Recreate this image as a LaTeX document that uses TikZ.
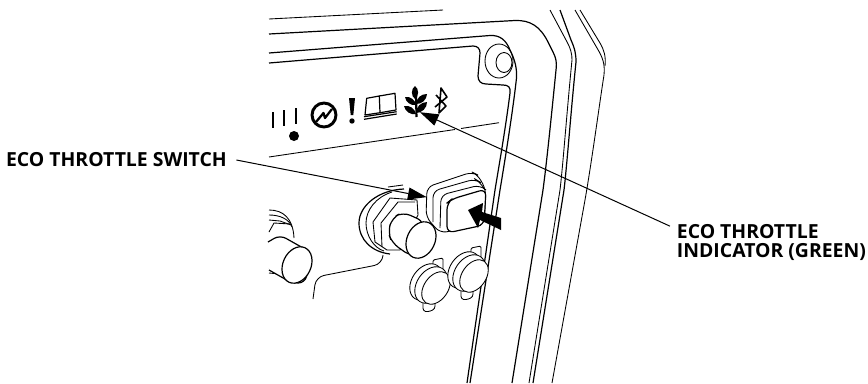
\documentclass[tikz,border=0pt]{standalone}
\usepackage{fontspec}
\setmainfont{Open Sans}
\usetikzlibrary{arrows.meta}

\begin{document}
\begin{tikzpicture}[x=0.75pt, y=-0.75pt, line join=round,
  thinln/.style={draw, line width=0.65pt},
  boldln/.style={draw, line width=0.9pt},
  sym/.style={draw, line width=2.2pt},
  solid fill/.style={fill=black, draw=none},
  call/.style={font=\bfseries\fontsize{14.55}{14.6}\selectfont, align=left, inner xsep=5pt, inner ysep=2pt},
  ptr/.style={draw, line width=0.75pt, -{Triangle[length=14pt, width=9pt]}, shorten >=-0.5pt}]
\useasboundingbox (0,0) rectangle (868,383);
% housing
\draw[thinln] (269,19) -- (443,10);
\draw[boldln] (269,34) -- (515,20.5) .. controls (530,20) and (540,26) .. (548,42) -- (553,52) .. controls (556,58) and (557,62) .. (556,70) .. controls (552,110) and (547,160) .. (543,190) -- (512,383);
\draw[thinln] (550,10) -- (566,40) .. controls (571,49) and (572,54) .. (572,60) .. controls (567,110) and (563,165) .. (560,190) -- (529,383);
\draw[boldln] (560,10) -- (571,40) .. controls (575,49) and (576,54) .. (576,62) .. controls (571,110) and (567,165) .. (564,190) -- (533,383);
\draw[thinln] (575,10) -- (597,48) .. controls (603,58) and (605,64) .. (604,75) .. controls (600,100) and (592,160) .. (585,200) -- (552,383);
\draw[thinln] (580,10) -- (600,43) .. controls (604,50) and (606,56) .. (605,66);
% screw
\draw[thinln] (499,61) ellipse [x radius=14, y radius=17];
\draw[thinln] (504,62.5) ellipse [x radius=8, y radius=10];
% panel
\draw[boldln] (269,53) -- (490,35.5) .. controls (500,35) and (506,40) .. (510,50) .. controls (515,60) and (517,68) .. (516.5,78) .. controls (513,110) and (505,160) .. (500,190) -- (470,383);
\draw[boldln] (269,63) -- (473,46) .. controls (478,46) and (480,49) .. (480,53) -- (478,76) .. controls (478,81) and (481,84) .. (486,84) -- (503,85) .. controls (508,85) and (511,87) .. (510,93) .. controls (506,125) and (500,160) .. (495,190) -- (467,383);
\draw[thinln] (269,157) -- (455,129.5);
\draw[thinln] (461,128.5) -- (499,122.7);
\draw[thinln, rounded corners=6pt] (383,255) -- (382,264) -- (316,277) -- (313,299);
% status symbols
\draw[sym] (273,112) -- (273,128) (284,110) -- (284,126) (296,108) -- (296,124);
\fill (294,136) circle (5);
\draw[sym] (324,115) circle (12);
\draw[sym, line width=1.7pt] (316,122) -- (323.5,113) -- (325,118) -- (332,109);
\fill[solid fill] (349,98) -- (355,98) -- (353.3,115) -- (350.7,115) -- cycle;
\fill (352,121) circle (2.7);
\draw[boldln] (365,115) -- (366.7,98.3) -- (379.3,96) -- (380,112.7) -- cycle;
\draw[boldln] (379.3,96) -- (395,93.3) -- (396,110) -- (380,112.7);
\draw[boldln] (364,116.7) -- (396.7,111.7) (364,119.3) -- (396.7,114);
\fill (415,86) to[bend left=55] (415,99) to[bend left=55] cycle;
\fill (405,97) to[bend left=45] (416,105) to[bend left=45] cycle;
\fill (427,94) to[bend right=45] (416,104) to[bend right=45] cycle;
\fill (404,106) to[bend left=45] (416,114) to[bend left=45] cycle;
\fill (427,102) to[bend right=45] (416,113) to[bend right=45] cycle;
\draw[sym, line width=1.6pt] (416,96) -- (416.5,117);
\draw[sym, line width=1.2pt] (436,95) -- (446,106) -- (439,113) -- (441,88) -- (447,97) -- (435,107);
% left knob
\draw[thinln] (269,210) .. controls (283,210) and (293,218) .. (294,238);
\draw[thinln] (269,215) .. controls (280,215) and (289,219) .. (292,227);
\draw[thinln] (269,220) -- (280,221) -- (291,225);
\draw[thinln] (269,232) -- (274,223) -- (290,224);
\draw[thinln] (269,268) -- (280,274);
\draw[thinln] (269,273) -- (280,274);
\draw[boldln, fill=white, rounded corners=5pt] (268,242) -- (280,235) -- (312,253) -- (305,283) -- (292,283) -- (269,270);
\draw[boldln, fill=white, rotate around={-25:(297,265)}] (297,265) ellipse [x radius=14, y radius=19];
% rubber cover
\draw[thinln, fill=white, rounded corners=5pt] (426,217) -- (427,187) -- (472,172) -- (478,175) -- (486,190) -- (484,225) -- (440,233) -- cycle;
\draw[thinln, rounded corners=5pt] (433,222) -- (433,191) -- (475,179) -- (480,182) -- (485,190);
\draw[thinln, rounded corners=5pt] (440,228) -- (441,195) -- (480,185) -- (486,190);
\draw[boldln, fill=white, rounded corners=5pt] (447,233) -- (447,203) -- (452,199) -- (486,189) -- (484,225) -- cycle;
% knob
\draw[thinln] (388,187) -- (403,185);
\draw[boldln, fill=white] (404,189) .. controls (378,190) and (359,206) .. (359,223) .. controls (359,240) and (372,252) .. (390,254);
\draw[thinln] (392,192) .. controls (376,197) and (366,210) .. (366,223) .. controls (366,236) and (374,248) .. (384,251);
\draw[thinln, fill=white] (418,215) -- (417,200) -- (390,198) -- (373,222) -- (375,242) -- (387,250) -- (400,250) -- cycle;
\draw[thinln] (415,202) -- (398,202) -- (381,223) -- (382,247);
\draw[boldln, fill=white, rounded corners=6pt] (425,222) -- (403,212) -- (392,218) -- (388,232) -- (392,243) -- (412,257) -- cycle;
\draw[boldln, fill=white, rotate around={-25:(421,240)}] (421,240) ellipse [x radius=14, y radius=19];
% sockets
\foreach \capx/\capy in {0/0, 38/-12} {
  \begin{scope}[shift={(\capx,\capy)}]
  \draw[thinln, fill=white, rounded corners=2pt] (423,300) -- (423,311) -- (428,312) -- (435,309) -- (435,300);
  \draw[thinln, fill=white, rounded corners=1pt] (433,270) -- (433,260) -- (443,258) -- (443,270);
  \draw[thinln, fill=white, rotate around={-35:(426,282)}] (426,282) ellipse [x radius=14, y radius=20];
  \draw[thinln, fill=white, rotate around={-35:(431,285)}] (431,285) ellipse [x radius=14, y radius=20];
  \draw[thinln, fill=white, rotate around={-35:(436,288)}] (436,288) ellipse [x radius=12, y radius=18];
  \end{scope}
}
% push mark
\fill[solid fill] (468,210) -- (483,203) -- (482,212) -- (501,218) -- (501,230) -- (480,220) -- (478,228) -- cycle;
% labels
\node[call, anchor=west, inner xsep=7pt] (swlabel) at (-3.5,160) {ECO THROTTLE SWITCH};
\node[call, anchor=north west] (indlabel) at (670,221) {ECO THROTTLE\\INDICATOR (GREEN)};
\coordinate (swtip) at (426,197);
\coordinate (indtip) at (420.5,112.5);
\draw[ptr] (swlabel.east) -- (swtip);
\draw[ptr] (indlabel.171.5) -- (indtip);
\end{tikzpicture}
\end{document}
